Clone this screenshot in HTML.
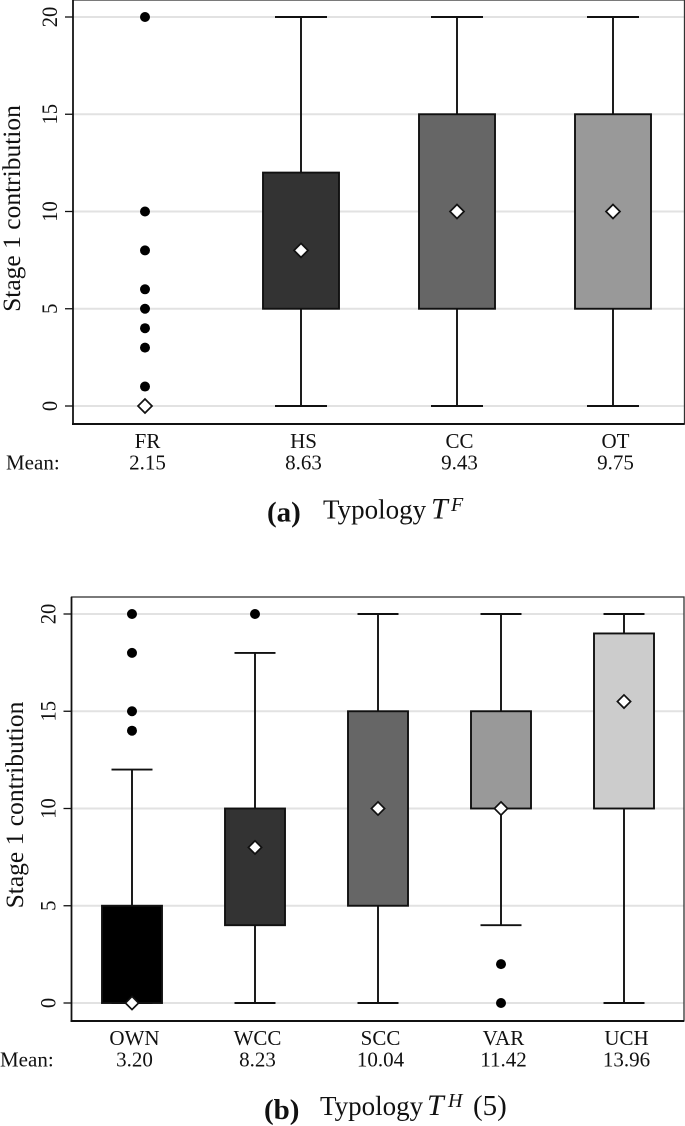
<!DOCTYPE html>
<html lang="en">
<head>
<meta charset="utf-8">
<title>Stage 1 contribution box plots</title>
<style>
html,body{margin:0;padding:0;background:#fff;width:685px;height:1126px;overflow:hidden}
svg{display:block}
text{font-family:"Liberation Serif",serif;fill:#111}
</style>
</head>
<body>
<svg id="chart" xmlns="http://www.w3.org/2000/svg" width="685" height="1126" viewBox="0 0 685 1126"></svg>
<script>
const yTicks = [0, 5, 10, 15, 20];

const categoriesA = ["FR", "HS", "CC", "OT"];
const meansA = ["2.15", "8.63", "9.43", "9.75"];
const q1A = [null, 5, 5, 5];
const q3A = [null, 12, 15, 15];
const whiskerLowA = [null, 0, 0, 0];
const whiskerHighA = [null, 20, 20, 20];
const diamondsA = [0, 8, 10, 10];
const outliersA = [[1, 3, 4, 5, 6, 8, 10, 20], [], [], []];
const fillsA = ["#000000", "#333333", "#666666", "#999999"];

const categoriesB = ["OWN", "WCC", "SCC", "VAR", "UCH"];
const meansB = ["3.20", "8.23", "10.04", "11.42", "13.96"];
const q1B = [0, 4, 5, 10, 10];
const q3B = [5, 10, 15, 15, 19];
const whiskerLowB = [0, 0, 0, 4, 0];
const whiskerHighB = [12, 18, 20, 20, 20];
const diamondsB = [0, 8, 10, 10, 15.5];
const outliersB = [[14, 15, 18, 20], [20], [], [0, 2], []];
const fillsB = ["#000000", "#333333", "#666666", "#999999", "#cccccc"];

const NS = "http://www.w3.org/2000/svg";
const root = document.getElementById("chart");

function add(parent, tag, attrs, text) {
  const el = document.createElementNS(NS, tag);
  for (const k in attrs) el.setAttribute(k, attrs[k]);
  if (text !== undefined) el.textContent = text;
  parent.appendChild(el);
  return el;
}

function drawPanel(p) {
  const g = add(root, "g", {});
  
  
  const y = v => p.y0 + (p.y20 - p.y0) * v / 20;
  const x = i => p.firstX + p.stepX * i;

  const frame = add(g, "rect", {x: p.left, y: p.top, width: p.right - p.left, height: p.bottom - p.top, fill: "#fff", stroke: "none"});
  
  

  yTicks.forEach(t => {
    const grid = add(g, "line", {x1: p.left, x2: p.right, y1: y(t), y2: y(t), stroke: "#e2e2e2", "stroke-width": 2});
    
    
    const tick = add(g, "line", {x1: p.left - 8, x2: p.left, y1: y(t), y2: y(t), stroke: "#111", "stroke-width": 1.3});
    
    
    const tx = p.left - 16;
    const lab = add(g, "text", {x: 0, y: 0, "font-size": 20.5, "text-anchor": "middle", transform: `translate(${tx} ${y(t)}) rotate(-90) scale(1 1.08)`}, t);
    
    
  });

  p.categories.forEach((c, i) => {
    const cx = x(i);
    if (p.q1[i] !== null) {
      [[p.whiskerLow[i], p.q1[i]], [p.q3[i], p.whiskerHigh[i]]].forEach(w => {
        const st = add(g, "line", {x1: cx, x2: cx, y1: y(w[0]), y2: y(w[1]), stroke: "#111", "stroke-width": 1.9});
        
        
      });
      [p.whiskerLow[i], p.whiskerHigh[i]].forEach(w => {
        const cap = add(g, "line", {x1: cx - p.capW / 2, x2: cx + p.capW / 2, y1: y(w), y2: y(w), stroke: "#111", "stroke-width": 1.9});
        
        
      });
      const box = add(g, "rect", {x: cx - p.boxW / 2, y: y(p.q3[i]), width: p.boxW, height: y(p.q1[i]) - y(p.q3[i]), fill: p.fills[i], stroke: "#111", "stroke-width": 1.9});
      
      
    }
    p.outliers[i].forEach(v => {
      const dot = add(g, "circle", {cx: cx, cy: y(v), r: 5, fill: "#000"});
      
      
    });
    const dy = y(p.diamonds[i]);
    const s = p.diamondSize;
    const d = add(g, "polygon", {points: `${cx},${dy - s} ${cx + s},${dy} ${cx},${dy + s} ${cx - s},${dy}`, fill: "#fff", stroke: "#111", "stroke-width": 1.7});
    
    

    const cat = add(g, "text", {x: cx + 2.5, y: p.bottom + 24, "font-size": 21, "text-anchor": "middle"}, c);
    
    
    const mean = add(g, "text", {x: cx + 2.5, y: p.bottom + 45.5, "font-size": 21, "text-anchor": "middle"}, p.means[i]);
    
    
  });

  const border = add(g, "rect", {x: p.left, y: p.top, width: p.right - p.left, height: p.bottom - p.top, fill: "none", stroke: "#333", "stroke-width": 1.3});
  
  
  const xAxis = add(g, "line", {x1: p.left - 1, x2: p.right, y1: p.bottom, y2: p.bottom, stroke: "#111", "stroke-width": 2});
  
  
  const yAxis = add(g, "line", {x1: p.left, x2: p.left, y1: p.top, y2: p.bottom, stroke: "#111", "stroke-width": 1.7});
  
  

  const yt = add(g, "text", {x: p.titleX, y: p.titleY, "font-size": 25.5, "text-anchor": "middle", transform: `rotate(-90 ${p.titleX} ${p.titleY})`}, "Stage 1 contribution");
  
  

  const ml = add(g, "text", {x: p.meanLabelX, y: p.bottom + 45.5, "font-size": 21}, "Mean:");
  
  
}

drawPanel({
  name: "panel-a", left: 73, right: 684.5, top: 0, bottom: 424, y0: 406, y20: 17,
  firstX: 145, stepX: 156, boxW: 76, capW: 52, titleX: 20, titleY: 208.5, meanLabelX: 6, diamondSize: 7,
  categories: categoriesA, means: meansA, q1: q1A, q3: q3A, whiskerLow: whiskerLowA,
  whiskerHigh: whiskerHighA, diamonds: diamondsA, outliers: outliersA, fills: fillsA
});
drawPanel({
  name: "panel-b", left: 71.5, right: 684, top: 597, bottom: 1021, y0: 1003, y20: 614,
  firstX: 132, stepX: 123, boxW: 60, capW: 41, titleX: 23, titleY: 805, meanLabelX: 0, diamondSize: 6.6,
  categories: categoriesB, means: meansB, q1: q1B, q3: q3B, whiskerLow: whiskerLowB,
  whiskerHigh: whiskerHighB, diamonds: diamondsB, outliers: outliersB, fills: fillsB
});
</script>
<svg xmlns="http://www.w3.org/2000/svg" width="685" height="1126" viewBox="0 0 685 1126" style="position:absolute;left:0;top:0;pointer-events:none">
  <text x="267" y="521.5" font-size="29" font-weight="bold">(a)</text>
  <text x="323" y="518.5" font-size="27">Typology <tspan x="431" font-style="italic" font-size="30">T</tspan><tspan x="451" y="511" font-style="italic" font-size="20">F</tspan></text>
  <text x="264" y="1119" font-size="29" font-weight="bold">(b)</text>
  <text x="320" y="1115" font-size="27">Typology <tspan x="427" font-style="italic" font-size="30">T</tspan><tspan x="448" y="1107" font-style="italic" font-size="20">H</tspan><tspan x="473" y="1115" font-size="29">(5)</tspan></text>
</svg>
</body>
</html>
